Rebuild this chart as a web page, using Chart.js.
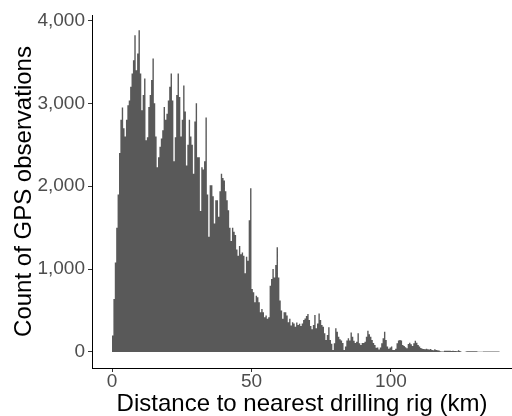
<!DOCTYPE html>
<html>
<head>
<meta charset="utf-8">
<script src="https://cdn.jsdelivr.net/npm/chart.js@4.4.1/dist/chart.umd.min.js"></script>
<style>
    html, body { margin: 0; padding: 0; background: #ffffff; }
    canvas { display: block; }
</style>
</head>
<body>
<canvas id="histChart" width="512" height="416"></canvas>
<script>
// GPS fixes by distance to the nearest rig, 0.5 km bins starting at 0 km
const binStart = 0;
const binWidth = 0.5;

// counts per bin
const counts0to35 = [
    200, 640, 1080, 1500, 1900, 2400, 2800, 2950, 2700, 2600,
    2800, 2975, 3035, 3200, 3360, 3520, 3820, 3400, 3600, 3880,
    3360, 2915, 3100, 3300, 2555, 2590, 2955, 3100, 3280, 3540,
    3000, 2600, 2230, 2350, 2475, 2575, 2675, 2955, 2800, 2875,
    3035, 3200, 3360, 3035, 2300, 2590, 3100, 3360, 3075, 2600,
    2800, 3215, 2900, 2250, 2500, 2800, 2600, 2500, 2150, 2780,
    3000, 2350, 2350, 1700, 2230, 2200, 2300, 2830, 1900, 1390
];
const counts35to70 = [
    2010, 2010, 1880, 1550, 1830, 1830, 1630, 1940, 2150, 2100,
    2070, 1940, 1830, 1710, 1500, 1340, 1500, 1450, 1410, 1235,
    1160, 1280, 1180, 1200, 1160, 950, 1150, 1100, 1590, 1975,
    760, 720, 600, 680, 660, 600, 480, 520, 480, 420,
    440, 400, 420, 800, 880, 1000, 900, 1050, 1265, 900,
    620, 500, 400, 480, 480, 440, 360, 400, 320, 360,
    345, 305, 355, 325, 340, 315, 345, 385, 405, 435
];
const counts70to105 = [
    458, 385, 315, 275, 325, 445, 285, 345, 465, 385,
    325, 305, 225, 145, 205, 300, 145, 100, 25, 105,
    285, 245, 185, 155, 140, 110, 25, 65, 140, 165,
    140, 235, 185, 135, 110, 125, 225, 105, 85, 110,
    110, 125, 185, 255, 215, 185, 145, 110, 85, 50,
    55, 30, 55, 105, 165, 245, 145, 65, 40, 55,
    65, 25, 25, 40, 105, 140, 145, 140, 85, 73
];
const counts105to139 = [
    57, 45, 97, 113, 93, 73, 105, 137, 113, 85,
    65, 49, 40, 37, 33, 40, 33, 29, 37, 25,
    21, 33, 25, 21, 17, 8, 5, 5, 15, 15,
    14, 16, 15, 13, 14, 12, 11, 10, 20, 12,
    2, 0, 0, 3, 10, 10, 10, 10, 10, 10,
    10, 10, 3, 2, 2, 2, 6, 6, 6, 6,
    6, 6, 6, 6, 6, 6, 6, 6
];

const xTicks = [0, 50, 100];
const yTicks = [0, 1000, 2000, 3000, 4000];

const counts = counts0to35.concat(counts35to70, counts70to105, counts105to139);
const binCenters = counts.map((c, i) => binStart + (i + 0.5) * binWidth);

Chart.defaults.font.family = "'Liberation Sans', Arial, sans-serif";

const tickFont = { size: 19, lineHeight: 1 };

// one filled step outline (stepped at the bin midpoints) so neighbouring bins
// join without hairline seams; ends padded with the outer bin edges
const histPoints = [{ x: binStart, y: counts[0] }]
    .concat(binCenters.map((x, i) => ({ x: x, y: counts[i] })))
    .concat([{ x: binStart + counts.length * binWidth, y: counts[counts.length - 1] }]);

new Chart(document.getElementById("histChart"), {
    type: "line",
    data: {
        datasets: [
            {
                data: histPoints,
                stepped: "middle",
                fill: "origin",
                backgroundColor: "#595959",
                borderWidth: 0,
                pointRadius: 0,
            },
        ],
    },
    options: {
        responsive: false,
        animation: false,
        devicePixelRatio: 1,
        layout: { padding: { top: 15, right: 0, bottom: 0, left: 0 } },
        plugins: {
            legend: { display: false },
            tooltip: { enabled: false },
        },
        scales: {
            x: {
                type: "linear",
                min: -7.17,
                max: 143.4,
                offset: false,
                afterBuildTicks: (scale) => {
                    scale.ticks = xTicks.map((v) => ({ value: v }));
                },
                afterFit: (scale) => {
                    scale.height = 48;
                },
                ticks: {
                    color: "#4d4d4d",
                    font: tickFont,
                    padding: 0,
                    maxRotation: 0,
                    autoSkip: false,
                },
                grid: {
                    offset: false,
                    drawOnChartArea: false,
                    drawTicks: true,
                    tickLength: 4,
                    color: "#333333",
                },
                border: { display: true, color: "#000000", width: 1 },
                title: {
                    display: true,
                    text: "Distance to nearest drilling rig (km)",
                    color: "#000000",
                    font: { size: 24, lineHeight: 1 },
                    padding: { top: 0, bottom: 0 },
                },
            },
            y: {
                type: "linear",
                min: -193,
                max: 4065,
                afterBuildTicks: (scale) => {
                    scale.ticks = yTicks.map((v) => ({ value: v }));
                },
                afterFit: (scale) => {
                    scale.width = 92;
                },
                ticks: {
                    color: "#4d4d4d",
                    font: tickFont,
                    padding: 3,
                    callback: (v) => v.toLocaleString("en-US"),
                },
                grid: {
                    drawOnChartArea: false,
                    drawTicks: true,
                    tickLength: 4,
                    color: "#333333",
                },
                border: { display: true, color: "#000000", width: 1 },
                title: {
                    display: true,
                    text: "Count of GPS observations",
                    color: "#000000",
                    font: { size: 24 },
                    padding: { top: 10, bottom: 0 },
                },
            },
        },
    },
});
</script>
</body>
</html>
